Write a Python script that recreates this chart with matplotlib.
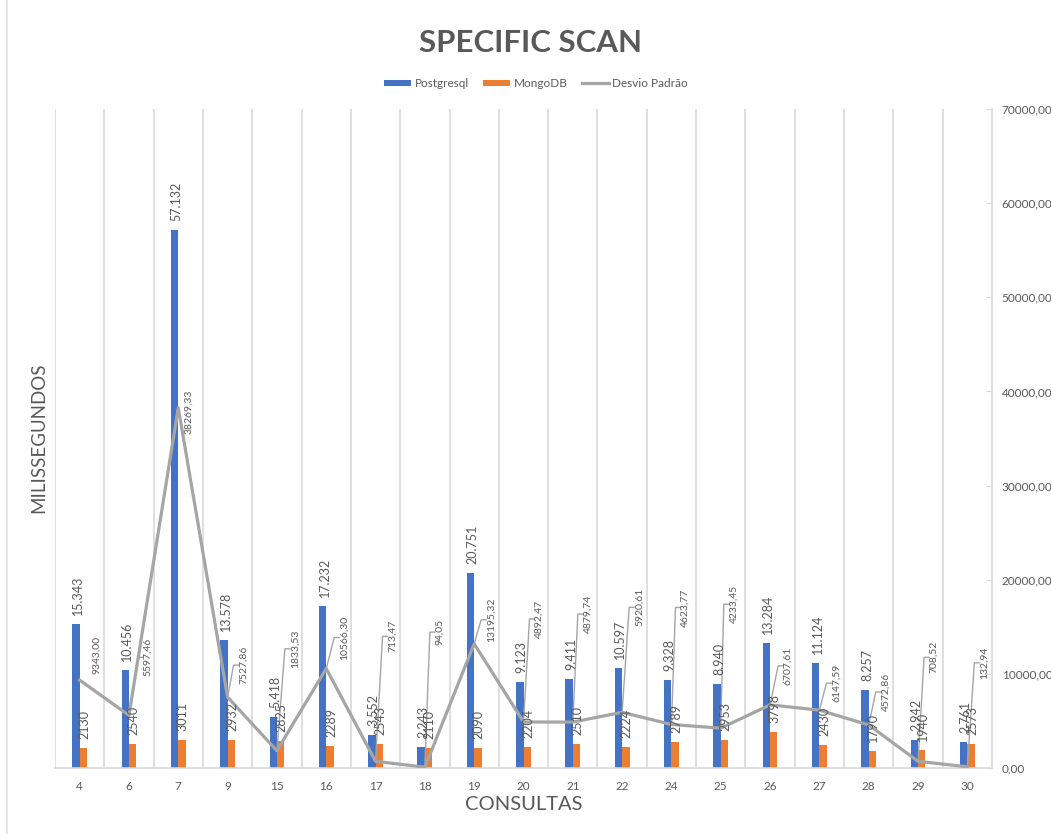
import numpy as np
import matplotlib.pyplot as plt
from matplotlib.lines import Line2D

plt.rcParams['font.family'] = ['Lato', 'DejaVu Sans']

consultas = ['4', '6', '7', '9', '15', '16', '17', '18', '19', '20',
             '21', '22', '24', '25', '26', '27', '28', '29', '30']
postgres = [15343, 10456, 57132, 13578, 5418, 17232, 3552, 2243, 20751, 9123,
            9411, 10597, 9328, 8940, 13284, 11124, 8257, 2942, 2761]
mongo = [2130, 2540, 3011, 2932, 2825, 2289, 2543, 2110, 2090, 2204,
         2510, 2224, 2789, 2953, 3798, 2430, 1790, 1940, 2573]
desvio = [9343.00, 5597.46, 38269.33, 7527.86, 1833.53, 10566.30, 713.47, 94.05,
          13195.32, 4892.47, 4879.74, 5920.61, 4623.77, 4233.45, 6707.61, 6147.59,
          4572.86, 708.52, 132.94]

# where each std-dev label sits, in pixels from its point (dx, dy), and whether it gets a leader
lbl_off = [(17, 25), (19, 58), (10, -4), (16, 32), (18, 102), (18, 31), (17, 125), (15, 135),
           (17, 24), (16, 103), (15, 108), (17, 105), (14, 117), (13, 124), (18, 39),
           (17, 27), (17, 33), (16, 104), (17, 104)]
leader = [False, True, False, True, True, True, True, True, True, True,
          True, True, True, True, True, True, True, True, True]

BLUE = '#4472C4'
ORANGE = '#ED7D31'
GRAY = '#A5A5A5'
TXT = '#595959'
GRID = '#D9D9D9'

fig = plt.figure(figsize=(10.51, 8.34), dpi=100)
ax = fig.add_axes([0.0523, 0.0791, 0.8916, 0.7902])

x = np.arange(len(consultas))
w = 0.15
b1 = ax.bar(x - w / 2, postgres, w, color=BLUE, label='Postgresql', zorder=2)
b2 = ax.bar(x + w / 2, mongo, w, color=ORANGE, label='MongoDB', zorder=2)
ln, = ax.plot(x, desvio, color=GRAY, lw=2.3, label='Desvio Padrão', zorder=3)

ax.set_xlim(-0.5, len(x) - 0.5)
ax.set_ylim(0, 70000)

# category separators
for b in np.arange(-0.5, len(x) - 0.5, 1):
    ax.axvline(b, color=GRID, lw=1.2, zorder=0)

for s in ['top', 'left']:
    ax.spines[s].set_visible(False)
for s in ['bottom', 'right']:
    ax.spines[s].set_color(GRID)
    ax.spines[s].set_linewidth(1.2)

ax.yaxis.tick_right()
ax.set_yticks(np.arange(0, 70001, 10000))
ax.set_yticklabels([f'{v:.2f}'.replace('.', ',') for v in np.arange(0, 70001, 10000)],
                   fontsize=8.5, color=TXT)
ax.tick_params(axis='y', direction='in', length=4, color=GRID, pad=7)
ax.set_xticks(x)
ax.set_xticklabels(consultas, fontsize=8.5, color=TXT)
ax.tick_params(axis='x', length=0, pad=9)

# bar value labels
for i in range(len(x)):
    ax.annotate(f'{postgres[i]:,}'.replace(',', '.'), (x[i] - w / 2, postgres[i]),
                xytext=(2, 9), textcoords='offset pixels', rotation=90,
                ha='center', va='bottom', fontsize=9, color=TXT, zorder=4)
    ax.annotate(str(mongo[i]), (x[i] + w / 2, mongo[i]),
                xytext=(1, 9), textcoords='offset pixels', rotation=90,
                ha='center', va='bottom', fontsize=9, color=TXT, zorder=4)

# std-dev labels with leader lines
for i in range(len(x)):
    dx, dy = lbl_off[i]
    ax.annotate(f'{desvio[i]:.2f}'.replace('.', ','), (x[i], desvio[i]),
                xytext=(dx, dy), textcoords='offset pixels', rotation=90,
                ha='center', va='center', fontsize=7.5, color=TXT, zorder=4)
    if leader[i]:
        px, py = ax.transData.transform((x[i], desvio[i]))
        xs = [px, px + dx - 10, px + dx - 5]
        ys = [py, py + dy, py + dy]
        pts = ax.transData.inverted().transform(np.column_stack([xs, ys]))
        ax.plot(pts[:, 0], pts[:, 1], color=GRAY, lw=1, zorder=3)

fig.text(0.505, 0.949, 'SPECIFIC SCAN', ha='center', va='center',
         fontsize=22.5, fontweight='bold', color=TXT)
fig.text(0.037, 0.475, 'MILISSEGUNDOS', ha='center', va='center', rotation=90,
         fontsize=13.5, color=TXT)
fig.text(0.498, 0.035, 'CONSULTAS', ha='center', va='center', fontsize=14.5, color=TXT)

fig.legend([b1, b2, ln], ['Postgresql', 'MongoDB', 'Desvio Padrão'], loc='center',
           bbox_to_anchor=(0.51, 0.9), ncol=3, frameon=False, fontsize=8.5,
           labelcolor=TXT, handlelength=2.3, handleheight=0.45, handletextpad=0.3,
           columnspacing=1.2)

fig.add_artist(Line2D([0.0067, 0.0067], [0, 1], color='#E0E0E0', lw=1.2,
                      transform=fig.transFigure))

fig.savefig('out.png', dpi=100)
